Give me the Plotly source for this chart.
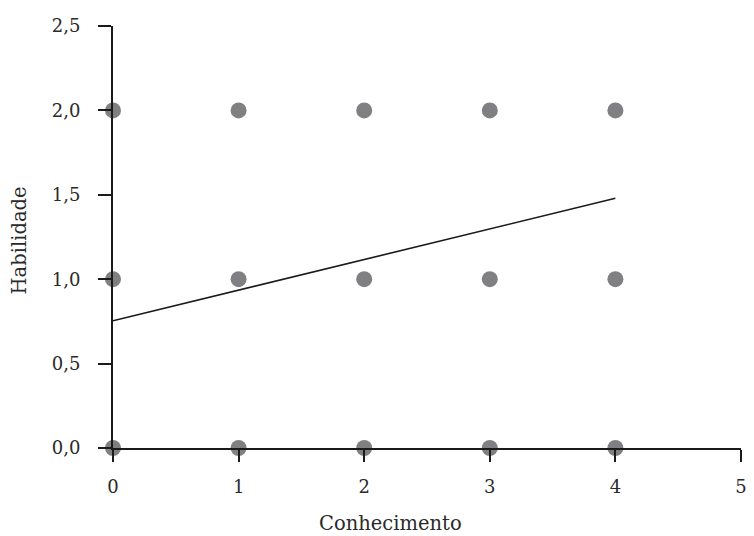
import plotly.graph_objects as go

conhecimento = [0, 0, 0, 1, 1, 1, 2, 2, 2, 3, 3, 3, 4, 4, 4]
habilidade = [0, 1, 2, 0, 1, 2, 0, 1, 2, 0, 1, 2, 0, 1, 2]
reg_x = [0, 4]
reg_y = [0.754, 1.479]
x_ticks = [0, 1, 2, 3, 4, 5]
y_ticks = [0, 0.5, 1.0, 1.5, 2.0, 2.5]

font_family = "DejaVu Serif"
txt = "#2a2a2a"

# page body has an 8px margin; figure sized to fit the window
W, H = 746, 528
L, R, T, B = 105, 7, 17, 88

def px(xw):  # window x pixel -> paper x
    return (xw - 8 - L) / (W - L - R)

def py(yw):  # window y pixel -> paper y
    return (H - B - (yw - 8)) / (H - B - T)

fig = go.Figure()
fig.add_trace(go.Scatter(x=reg_x, y=reg_y, mode="lines",
                         line=dict(color="#1a1a1a", width=1.6),
                         showlegend=False, cliponaxis=False))
fig.add_trace(go.Scatter(x=conhecimento, y=habilidade, mode="markers",
                         marker=dict(color="#808083", size=16),
                         showlegend=False, cliponaxis=False))

fig.update_layout(
    width=W, height=H,
    margin=dict(l=L, r=R, t=T, b=B),
    plot_bgcolor="white", paper_bgcolor="white",
    separators=",.",
    font=dict(family=font_family, size=18, color=txt),
    xaxis=dict(range=[0, 5], tickvals=x_ticks, ticks="outside", ticklen=12,
               tickwidth=2, tickcolor="#1a1a1a", showline=True, linecolor="#1a1a1a",
               linewidth=2, showgrid=False, zeroline=False, ticklabelstandoff=9,
               tickfont=dict(size=18, color=txt)),
    yaxis=dict(range=[0, 2.5], tickvals=y_ticks, tickformat=".1f", ticks="outside",
               ticklen=13, tickwidth=2, tickcolor="#1a1a1a", showline=True,
               linecolor="#1a1a1a", linewidth=2, showgrid=False, zeroline=False,
               ticklabelstandoff=14, tickfont=dict(size=18, color=txt)),
    annotations=[
        dict(text="Conhecimento", x=px(393), y=py(524), xref="paper", yref="paper",
             showarrow=False, font=dict(size=19.5, color=txt),
             xanchor="center", yanchor="middle"),
        dict(text="Habilidade", textangle=-90, x=px(19), y=py(240), xref="paper",
             yref="paper", showarrow=False, font=dict(size=19.5, color=txt),
             xanchor="center", yanchor="middle"),
    ],
)

fig.write_html("out.html")
